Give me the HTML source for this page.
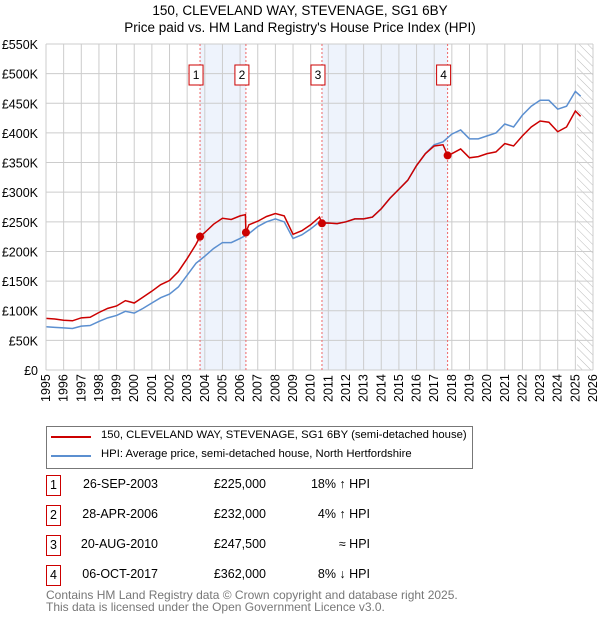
<!DOCTYPE html>
<html><head><meta charset="utf-8"><style>
body{margin:0;background:#fff;font-family:"Liberation Sans","DejaVu Sans",sans-serif;}
#wrap{position:relative;width:600px;height:620px;overflow:hidden}
.t{position:absolute;font-size:12.5px;color:#000;white-space:nowrap}
.box{position:absolute;border:1px solid #c00;width:13px;height:19px;font-size:12.5px;text-align:center;line-height:19px}
</style></head><body><div id="wrap">
<div class="t" style="left:0;width:600px;text-align:center;top:3px;font-size:13.5px">150, CLEVELAND WAY, STEVENAGE, SG1 6BY</div>
<div class="t" style="left:0;width:600px;text-align:center;top:20px;font-size:13.5px">Price paid vs. HM Land Registry's House Price Index (HPI)</div>
<svg id="chart" width="600" height="420" style="position:absolute;left:0;top:0"></svg>
<div style="position:absolute;left:46px;top:426px;width:425px;height:41px;border:1px solid #777"></div>
<div style="position:absolute;left:51px;top:436px;width:40px;height:2px;background:#c00"></div>
<div class="t" style="left:101px;top:429px;font-size:11.3px">150, CLEVELAND WAY, STEVENAGE, SG1 6BY (semi-detached house)</div>
<div style="position:absolute;left:51px;top:455px;width:40px;height:2px;background:#5b8fd0"></div>
<div class="t" style="left:101px;top:448px;font-size:11.3px">HPI: Average price, semi-detached house, North Hertfordshire</div>
<div id="rows"></div>
<div class="t" style="left:46px;top:590px;color:#777;font-size:12px;line-height:11.5px">Contains HM Land Registry data © Crown copyright and database right 2025.<br>This data is licensed under the Open Government Licence v3.0.</div>
</div>
<script>
const hpiYears=[1995,1995.5,1996,1996.5,1997,1997.5,1998,1998.5,1999,1999.5,2000,2000.5,2001,2001.5,2002,2002.5,2003,2003.5,2004,2004.5,2005,2005.5,2006,2006.5,2007,2007.5,2008,2008.5,2009,2009.5,2010,2010.5,2011,2011.5,2012,2012.5,2013,2013.5,2014,2014.5,2015,2015.5,2016,2016.5,2017,2017.5,2018,2018.5,2019,2019.5,2020,2020.5,2021,2021.5,2022,2022.5,2023,2023.5,2024,2024.5,2025,2025.3];
const hpiValues=[73,72,71,70,74,75,82,88,92,99,96,104,113,122,128,140,160,180,192,205,215,215,222,230,242,250,255,250,222,228,238,250,248,247,250,255,255,258,272,290,305,320,345,365,380,385,398,405,390,390,395,400,415,410,430,445,455,455,440,445,470,462];
const redYears=[1995,1995.5,1996,1996.5,1997,1997.5,1998,1998.5,1999,1999.5,2000,2000.5,2001,2001.5,2002,2002.5,2003,2003.5,2003.73,2004,2004.5,2005,2005.5,2006,2006.3,2006.33,2006.5,2007,2007.5,2008,2008.5,2009,2009.5,2010,2010.5,2010.64,2011,2011.5,2012,2012.5,2013,2013.5,2014,2014.5,2015,2015.5,2016,2016.5,2017,2017.5,2017.76,2018,2018.5,2019,2019.5,2020,2020.5,2021,2021.5,2022,2022.5,2023,2023.5,2024,2024.5,2025,2025.3];
const redValues=[87,86,84,83,88,89,97,104,108,117,113,123,133,144,151,166,188,212,225,232,246,256,254,260,262,232,245,251,259,264,260,229,235,245,258,247.5,248,247,250,255,255,258,272,290,305,320,345,365,378,380,362,365,373,358,360,365,368,382,378,395,410,420,418,402,410,437,428];
const saleLabels=["1","2","3","4"];
const saleYears=[2003.73,2006.33,2010.64,2017.76];
const salePrices=[225,232,247.5,362];
const saleDates=["26-SEP-2003","28-APR-2006","20-AUG-2010","06-OCT-2017"];
const salePriceText=["£225,000","£232,000","£247,500","£362,000"];
const saleHpiText=["18% ↑ HPI","4% ↑ HPI","≈ HPI","8% ↓ HPI"];
const yTicks=[0,50,100,150,200,250,300,350,400,450,500,550];
const yTickLabels=["£0","£50K","£100K","£150K","£200K","£250K","£300K","£350K","£400K","£450K","£500K","£550K"];
const xTicks=[1995,1996,1997,1998,1999,2000,2001,2002,2003,2004,2005,2006,2007,2008,2009,2010,2011,2012,2013,2014,2015,2016,2017,2018,2019,2020,2021,2022,2023,2024,2025,2026];

const X0=46,X1=593,Y0=370,Y1=44;
const x=v=>X0+(v-1995)/(2026-1995)*(X1-X0);
const y=v=>Y0-v/550*(Y0-Y1);
const NS="http://www.w3.org/2000/svg";
const svg=document.getElementById('chart');
function mk(tag,attrs){const e=document.createElementNS(NS,tag);for(const k in attrs)e.setAttribute(k,attrs[k]);svg.appendChild(e);return e;}
for(let i=0;i<saleYears.length;i+=2){
 const b=mk('rect',{x:x(saleYears[i]),y:Y1,width:x(saleYears[i+1])-x(saleYears[i]),height:Y0-Y1,fill:'#eef3fc'});
 
 
}
const defs=mk('defs',{});
defs.innerHTML='<pattern id="h" width="6" height="6" patternUnits="userSpaceOnUse" patternTransform="rotate(-45)"><line x1="0" y1="0" x2="0" y2="6" stroke="#bbb" stroke-width="1"/></pattern>';
const hr=mk('rect',{x:x(2025.1),y:Y1,width:x(2026)-x(2025.1),height:Y0-Y1,fill:'url(#h)'});


xTicks.forEach(t=>{
 const l=mk('line',{x1:x(t),x2:x(t),y1:Y1,y2:Y0,stroke:'#ccc'});
 
 
 const tx=mk('text',{x:0,y:0,transform:`translate(${x(t)+4},${Y0+32}) rotate(-90)`,'font-size':12.5,'font-family':'Liberation Sans, sans-serif'});
 tx.textContent=t;
 
 
});
yTicks.forEach((t,i)=>{
 const l=mk('line',{x1:X0,x2:X1,y1:y(t),y2:y(t),stroke:'#ccc'});
 
 
 const tx=mk('text',{x:38,y:y(t)+5,'text-anchor':'end','font-size':12.5,'font-family':'Liberation Sans, sans-serif'});
 tx.textContent=yTickLabels[i];
 
 
});
saleYears.forEach((s,i)=>{
 const l=mk('line',{x1:x(s),x2:x(s),y1:Y1,y2:Y0,stroke:'#e66','stroke-dasharray':'2,2'});
 
 
 const r=mk('rect',{x:x(s)-11,y:65,width:14,height:20,fill:'#fff',stroke:'#c00'});
 
 
 const tx=mk('text',{x:x(s)-4,y:79,'text-anchor':'middle','font-size':12,'font-family':'Liberation Sans, sans-serif'});
 tx.textContent=saleLabels[i];
 
 
});
const p1=mk('polyline',{points:hpiYears.map((v,i)=>x(v)+','+y(hpiValues[i])).join(' '),fill:'none',stroke:'#5b8fd0','stroke-width':1.5});


const p2=mk('polyline',{points:redYears.map((v,i)=>x(v)+','+y(redValues[i])).join(' '),fill:'none',stroke:'#c00','stroke-width':1.5});


saleYears.forEach((s,i)=>{
 const c=mk('circle',{cx:x(s),cy:y(salePrices[i]),r:4,fill:'#c00'});
 
 
});
mk('line',{x1:X0,x2:X0,y1:Y1,y2:Y0,stroke:'#ccc'});
const rows=document.getElementById('rows');
saleLabels.forEach((lab,i)=>{
 const top=475+i*30;
 const b=document.createElement('div');b.className='box';b.style.left='46px';b.style.top=top+'px';b.textContent=lab;
 
 
 rows.appendChild(b);
 [[saleDates[i],158,'sale-date'],[salePriceText[i],266,'sale-price'],[saleHpiText[i],370,'sale-hpi-diff']].forEach(([txt,r,n])=>{
  const d=document.createElement('div');d.className='t';d.style.right=(600-r)+'px';d.style.top=(top+2)+'px';d.textContent=txt;
  
  
  rows.appendChild(d);
 });
});
</script></body></html>
